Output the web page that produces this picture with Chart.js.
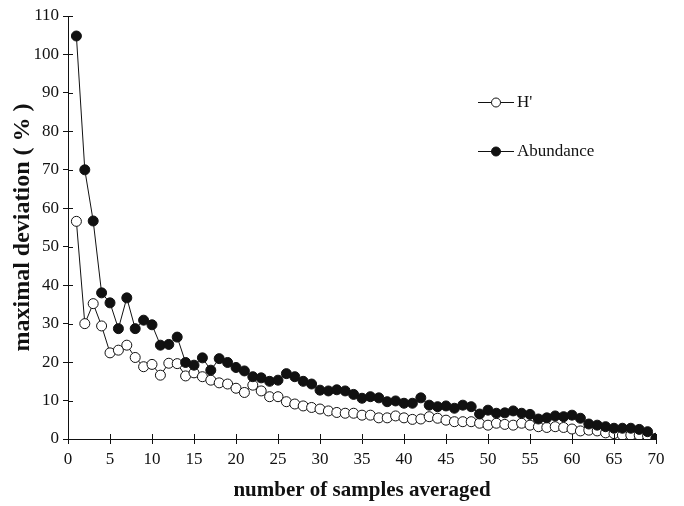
<!DOCTYPE html>
<html>
<head>
<meta charset="utf-8">
<script src="https://cdn.jsdelivr.net/npm/chart.js@4"></script>
<style>
  html, body { margin: 0; padding: 0; background: #fff; }
  #wrap { width: 684px; height: 506px; }
</style>
</head>
<body>
<div id="wrap"><canvas id="chart" width="684" height="506"></canvas></div>
<script>
// number of samples averaged
const samples = [
    1, 2, 3, 4, 5, 6, 7, 8, 9, 10,
    11, 12, 13, 14, 15, 16, 17, 18, 19, 20,
    21, 22, 23, 24, 25, 26, 27, 28, 29, 30,
    31, 32, 33, 34, 35, 36, 37, 38, 39, 40,
    41, 42, 43, 44, 45, 46, 47, 48, 49, 50,
    51, 52, 53, 54, 55, 56, 57, 58, 59, 60,
    61, 62, 63, 64, 65, 66, 67, 68, 69, 70
];

// maximal deviation (%) for H'
const hPrime = [
    56.6, 30.0, 35.2, 29.4, 22.4, 23.1, 24.4, 21.2, 18.8, 19.4,
    16.6, 19.7, 19.6, 16.4, 17.2, 16.2, 15.3, 14.6, 14.3, 13.2,
    12.1, 14.0, 12.5, 11.0, 11.0, 9.7, 9.1, 8.6, 8.2, 7.8,
    7.3, 6.9, 6.7, 6.7, 6.2, 6.2, 5.5, 5.5, 6.0, 5.5,
    5.1, 5.2, 5.8, 5.4, 4.9, 4.5, 4.5, 4.5, 4.1, 3.6,
    4.1, 3.8, 3.6, 4.1, 3.6, 3.2, 3.0, 3.2, 3.0, 2.6,
    2.1, 2.3, 2.1, 1.6, 1.4, 1.0, 1.0, 1.0, 0.8, 0.0
];

// maximal deviation (%) for Abundance
const abundance = [
    104.8, 70.0, 56.7, 38.0, 35.4, 28.7, 36.7, 28.7, 30.9, 29.7,
    24.4, 24.6, 26.5, 19.9, 19.2, 21.1, 17.9, 20.9, 19.9, 18.6,
    17.7, 16.2, 15.9, 15.0, 15.3, 17.0, 16.2, 15.0, 14.3, 12.7,
    12.5, 12.8, 12.5, 11.6, 10.6, 11.0, 10.7, 9.7, 9.9, 9.3,
    9.3, 10.7, 8.8, 8.4, 8.6, 8.0, 8.8, 8.4, 6.5, 7.5,
    6.7, 6.8, 7.3, 6.7, 6.4, 5.2, 5.5, 6.0, 5.8, 6.2,
    5.4, 3.9, 3.6, 3.2, 2.8, 2.8, 2.8, 2.5, 1.9, 0.2
];

const xTicks = [0, 5, 10, 15, 20, 25, 30, 35, 40, 45, 50, 55, 60, 65, 70];
const yTicks = [0, 10, 20, 30, 40, 50, 60, 70, 80, 90, 100, 110];

const seriesNames = ["H'", 'Abundance'];

const SERIF = '"Liberation Serif", "Times New Roman", serif';
const INK = '#111';

const toPoints = (vals) => samples.map((x, i) => ({ x: x, y: vals[i] }));

// ticks that cross the axis line (inner half drawn here, outer half by Chart.js)
const crossTicks = {
    id: 'crossTicks',
    afterDraw(chart) {
        const { ctx, chartArea, scales } = chart;
        ctx.save();
        ctx.strokeStyle = INK;
        ctx.lineWidth = 1;
        ctx.beginPath();
        xTicks.forEach(v => {
            const px = Math.round(scales.x.getPixelForValue(v)) + 0.5;
            ctx.moveTo(px, chartArea.bottom);
            ctx.lineTo(px, chartArea.bottom - 5);
        });
        yTicks.forEach(v => {
            const py = Math.round(scales.y.getPixelForValue(v)) + 0.5;
            ctx.moveTo(chartArea.left, py);
            ctx.lineTo(chartArea.left + 5, py);
        });
        ctx.stroke();
        ctx.restore();
    }
};

// legend drawn inside the plot, as in the original figure
const insideLegend = {
    id: 'insideLegend',
    afterDraw(chart) {
        const ctx = chart.ctx;
        const entries = [
            { label: seriesNames[0], y: 102, filled: false },
            { label: seriesNames[1], y: 151, filled: true }
        ];
        ctx.save();
        ctx.font = '17px ' + SERIF;
        ctx.textBaseline = 'middle';
        entries.forEach(e => {
            ctx.strokeStyle = INK;
            ctx.lineWidth = 1;
            ctx.beginPath();
            ctx.moveTo(478, e.y + 0.5);
            ctx.lineTo(514, e.y + 0.5);
            ctx.stroke();
            ctx.beginPath();
            ctx.arc(496, e.y + 0.5, 4.5, 0, Math.PI * 2);
            ctx.fillStyle = e.filled ? INK : '#fff';
            ctx.fill();
            ctx.stroke();
            ctx.fillStyle = INK;
            ctx.fillText(e.label, 517, e.y + 1);
        });
        ctx.restore();
    }
};

new Chart(document.getElementById('chart'), {
    type: 'line',
    data: {
        datasets: [
            {
                label: seriesNames[1],
                data: toPoints(abundance),
                borderColor: INK,
                borderWidth: 1,
                backgroundColor: INK,
                pointBackgroundColor: INK,
                pointBorderColor: INK,
                pointBorderWidth: 1,
                pointRadius: 5,
                tension: 0,
                fill: false
            },
            {
                label: seriesNames[0],
                data: toPoints(hPrime),
                borderColor: INK,
                borderWidth: 1,
                backgroundColor: '#fff',
                pointBackgroundColor: '#fff',
                pointBorderColor: INK,
                pointBorderWidth: 1,
                pointRadius: 5,
                tension: 0,
                fill: false
            }
        ]
    },
    options: {
        responsive: false,
        animation: false,
        devicePixelRatio: 1,
        layout: { padding: { top: 16, right: 28, left: 0, bottom: 0 } },
        plugins: {
            legend: { display: false },
            tooltip: { enabled: false }
        },
        scales: {
            x: {
                type: 'linear',
                min: 0,
                max: 70,
                afterBuildTicks: (scale) => { scale.ticks = xTicks.map(v => ({ value: v })); },
                afterFit: (scale) => { scale.height = 67; },
                border: { display: true, color: INK, width: 1 },
                grid: { drawOnChartArea: false, tickLength: 5, color: INK },
                ticks: {
                    color: INK,
                    padding: 5,
                    maxRotation: 0,
                    font: { family: SERIF, size: 17 }
                },
                title: {
                    display: true,
                    text: 'number of samples averaged',
                    color: INK,
                    padding: { top: 0, bottom: 3 },
                    font: { family: SERIF, size: 21, weight: 'bold' }
                }
            },
            y: {
                type: 'linear',
                min: 0,
                max: 110,
                afterBuildTicks: (scale) => { scale.ticks = yTicks.map(v => ({ value: v })); },
                afterFit: (scale) => { scale.width = 68; },
                border: { display: true, color: INK, width: 1 },
                grid: { drawOnChartArea: false, tickLength: 5, color: INK },
                ticks: {
                    color: INK,
                    padding: 4,
                    font: { family: SERIF, size: 17 }
                },
                title: {
                    display: true,
                    text: 'maximal deviation ( % )',
                    color: INK,
                    padding: { top: 8, bottom: 0 },
                    font: { family: SERIF, size: 24, weight: 'bold' }
                }
            }
        }
    },
    plugins: [crossTicks, insideLegend]
});
</script>
</body>
</html>
